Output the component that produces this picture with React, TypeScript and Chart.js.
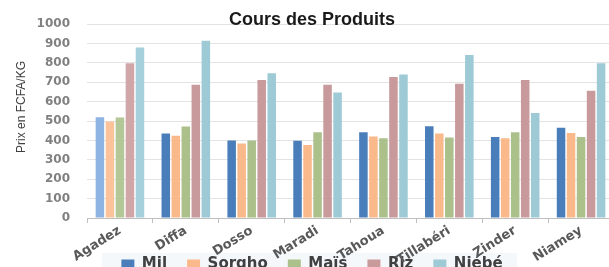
import React, { useEffect, useRef } from 'react';
import { Chart, registerables } from 'chart.js';

Chart.register(...registerables);

const categories = ['Agadez', 'Diffa', 'Dosso', 'Maradi', 'Tahoua', 'Tillabéri', 'Zinder', 'Niamey'];
const seriesNames = ['Mil', 'Sorgho', 'Maïs', 'Riz', 'Niébé'];
const mil = [520, 436, 400, 398, 443, 474, 418, 466];
const sorgho = [498, 425, 385, 377, 420, 436, 412, 439];
const mais = [519, 472, 400, 443, 411, 415, 443, 418];
const riz = [798, 687, 712, 688, 728, 693, 712, 656];
const niebe = [880, 915, 747, 648, 740, 841, 542, 798];
const yMin = 0;
const yMax = 1000;
const yStep = 100;
const chartTitle = 'Cours des Produits';
const yTitle = 'Prix en FCFA/KG';

const seriesColors = ['#4a7ebb', '#fab98b', '#abc08a', '#c89a9c', '#9ecad6'];
const firstColors = ['#8db4e2', '#fcc39b', '#b4c796', '#d1a6a8', '#a6d0db'];

export default function App() {
  const ref = useRef<HTMLCanvasElement>(null);

  useEffect(() => {
    if (!ref.current) return;
    const values = [mil, sorgho, mais, riz, niebe];
    const textPlugin = {
      id: 'customTexts',
      afterLayout(chart: any) {
        const x = chart.scales.x;
        if (x) x.bottom = chart.height;
      },
      beforeDraw(chart: any) {
        const ctx = chart.ctx;
        ctx.save();
        ctx.fillStyle = '#f5f8fb';
        ctx.fillRect(102, 253, 415, 30);
        ctx.restore();
      },
      afterDraw(chart: any) {
        const ctx = chart.ctx;
        ctx.save();
        ctx.font = 'bold 18px "Liberation Sans"';
        ctx.fillStyle = '#1a1a1a';
        ctx.textAlign = 'center';
        ctx.textBaseline = 'alphabetic';
        ctx.fillText(chartTitle, 312, 25);
        ctx.translate(22, 107);
        ctx.rotate(-Math.PI / 2);
        ctx.font = '12px "Liberation Sans"';
        ctx.fillStyle = '#404040';
        ctx.textBaseline = 'middle';
        ctx.fillText(yTitle, 0, 0);
        ctx.restore();
      },
    };
    const chart = new Chart(ref.current, {
      type: 'bar',
      data: {
        labels: categories,
        datasets: seriesNames.map((name, i) => ({
          label: name,
          data: values[i],
          backgroundColor: values[i].map((_, j) => (j === 0 ? firstColors[i] : seriesColors[i])),
          borderWidth: 0,
          categoryPercentage: 0.76,
          barPercentage: 0.85,
        })),
      },
      options: {
        responsive: false,
        animation: false,
        layout: { padding: { top: 21, right: 2, left: 10, bottom: 0 } },
        plugins: {
          legend: {
            position: 'bottom',
            labels: {
              font: { family: 'DejaVu Sans', weight: 'bold', size: 15 },
              color: '#404040',
              boxWidth: 13,
              boxHeight: 10,
              padding: 20,
              generateLabels: (chart: any) =>
                chart.data.datasets.map((ds: any, i: number) => ({
                  text: ds.label,
                  fillStyle: seriesColors[i],
                  strokeStyle: seriesColors[i],
                  lineWidth: 0,
                  fontColor: '#404040',
                  datasetIndex: i,
                })),
            },
          },
          tooltip: { enabled: false },
          title: { display: false },
        },
        scales: {
          x: {
            grid: { display: true, drawOnChartArea: false, drawTicks: true, tickLength: 5, color: '#bfbfbf', offset: true },
            border: { color: '#bfbfbf' },
            ticks: {
              font: { family: 'DejaVu Sans', weight: 'bold', size: 13 },
              color: '#595959',
              minRotation: 32,
              maxRotation: 32,
              padding: 0,
            },
            afterFit(scale: any) {
              scale.height = 19;
            },
          },
          y: {
            min: yMin,
            max: yMax,
            ticks: {
              stepSize: yStep,
              font: { family: 'DejaVu Sans', weight: 'bold', size: 12 },
              color: '#808080',
              padding: 17,
              callback: (v: any) => String(v),
            },
            grid: { color: '#e3e3e3', drawTicks: false },
            border: { display: false },
            afterFit(scale: any) {
              scale.width = 77;
            },
          },
        },
      },
      plugins: [textPlugin],
    });
    return () => chart.destroy();
  }, []);

  return (
    <div style={{ position: 'fixed', left: 0, top: 0, width: 609, height: 267, overflow: 'hidden', background: '#fff' }}>
      <canvas ref={ref} width={616} height={282} style={{ display: 'block' }} />
    </div>
  );
}
